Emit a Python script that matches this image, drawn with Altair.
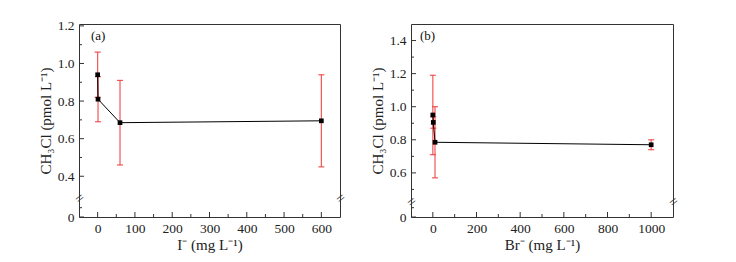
import altair as alt
import pandas as pd

# ---------------- data ----------------
# Panel (a): CH3Cl vs iodide
i_conc = [0, 1, 60, 600]
i_mean = [0.94, 0.81, 0.685, 0.695]
i_err = [0.12, 0.12, 0.225, 0.245]

# Panel (b): CH3Cl vs bromide
br_conc = [0, 2, 10, 1000]
br_mean = [0.95, 0.905, 0.785, 0.77]
br_err = [0.24, 0.035, 0.215, 0.03]

# tick values
a_xmajor = [0, 100, 200, 300, 400, 500, 600]
a_xminor = [50, 150, 250, 350, 450, 550]
a_ymajor = [0, 0.4, 0.6, 0.8, 1.0, 1.2]
a_yminor = [0.1, 0.5, 0.7, 0.9, 1.1]
b_xmajor = [0, 200, 400, 600, 800, 1000]
b_xminor = [100, 300, 500, 700, 900]
b_ymajor = [0, 0.6, 0.8, 1.0, 1.2, 1.4]
b_yminor = [0.1, 0.5, 0.7, 0.9, 1.1, 1.3]

H = 193
FONT = "Liberation Serif"
AX = "#333333"
RED = "#ee3a3a"
YTITLE = "CH\u2083Cl (pmol L\u207b\u00b9)"


def panel(conc, mean, err, xdom, ydom, yrng, xmaj, xmin, ymaj, ymin,
          xtitle, tag, brk, width, tagx):
    df = pd.DataFrame({"x": conc, "m": mean, "e": err})
    df["lo"] = df["m"] - df["e"]
    df["hi"] = df["m"] + df["e"]
    caps = pd.DataFrame({"x": conc + conc,
                         "v": list(df["lo"]) + list(df["hi"])})
    xs = alt.Scale(domain=xdom, nice=False, zero=False)
    ys = alt.Scale(domain=ydom, range=yrng, nice=False, zero=False)

    xaxis = alt.Axis(values=xmaj, format="d", ticks=False, domain=False,
                     grid=False, labelPadding=4, title=xtitle, titlePadding=3)
    yaxis = alt.Axis(values=ymaj, ticks=False, domain=False, grid=False,
                     labelExpr="datum.value == 0 ? '0' : format(datum.value, '.1f')",
                     labelPadding=5, title=YTITLE, titlePadding=4)

    def X(f):
        return alt.X(f, scale=xs, axis=xaxis)

    def Y(f):
        return alt.Y(f, scale=ys, axis=yaxis)

    base = alt.Chart(df)
    bars = base.mark_rule(color=RED, strokeWidth=1.2, opacity=0.85).encode(
        x=X("x:Q"), y=Y("lo:Q"), y2="hi:Q")
    capm = alt.Chart(caps).mark_tick(color=RED, orient="horizontal", size=6,
                                     thickness=1.2, opacity=0.85).encode(
        x=X("x:Q"), y=Y("v:Q"))
    line = base.mark_line(color="black", strokeWidth=1).encode(
        x=X("x:Q"), y=Y("m:Q"), order="x:Q")
    pts = base.mark_square(color="black", size=22, opacity=1).encode(
        x=X("x:Q"), y=Y("m:Q"))

    def yt(vals, ln):
        return alt.Chart(pd.DataFrame({"v": vals})).mark_rule(
            color=AX, strokeWidth=1).encode(
            x=alt.value(0), x2=alt.value(ln), y=Y("v:Q"))

    def xt(vals, ln):
        return alt.Chart(pd.DataFrame({"v": vals})).mark_rule(
            color=AX, strokeWidth=1).encode(
            y=alt.value(H), y2=alt.value(H - ln), x=X("v:Q"))

    brkdf = pd.DataFrame({"x": [xdom[0], xdom[1]], "y": [brk, brk], "t": ["=", "="]})
    brkm = alt.Chart(brkdf).mark_text(font=FONT, fontSize=15, angle=322,
                                      color=AX, baseline="middle",
                                      align="center", dy=1).encode(
        x=X("x:Q"), y=Y("y:Q"), text="t:N")
    tagm = alt.Chart(pd.DataFrame({"t": [tag]})).mark_text(
        font=FONT, fontSize=13, align="left", baseline="middle",
        color="#111").encode(x=alt.value(tagx), y=alt.value(12), text="t:N")

    return alt.layer(bars, capm, line, pts, yt(ymaj, 5), yt(ymin, 3),
                     xt(xmaj, 5), xt(xmin, 3), brkm, tagm).properties(
        width=width, height=H)


left = panel(i_conc, i_mean, i_err, [-50, 650], [0, 0.1, 0.287, 1.21],
             [H, 183.7, 173.5, 0], a_xmajor, a_xminor, a_ymajor, a_yminor,
             "I\u207b (mg L\u207b\u00b9)", "(a)", 0.287, 261, 12)
right = panel(br_conc, br_mean, br_err, [-100, 1100], [0, 0.1, 0.43, 1.5],
              [H, 183.7, 177, 0], b_xmajor, b_xminor, b_ymajor, b_yminor,
              "Br\u207b (mg L\u207b\u00b9)", "(b)", 0.43, 262, 9)

chart = alt.hconcat(left, right, spacing=71, bounds="flush").properties(
    padding={"left": 37, "top": 18, "right": 5, "bottom": 5},
    background="white"
).configure_view(stroke=AX, strokeWidth=1).configure_axis(
    labelFont=FONT, labelFontSize=13.5, labelColor="#222",
    titleFont=FONT, titleFontSize=15, titleFontWeight="normal",
    titleColor="#222")

chart.save("out.html", embed_options={"renderer": "svg", "actions": False})
